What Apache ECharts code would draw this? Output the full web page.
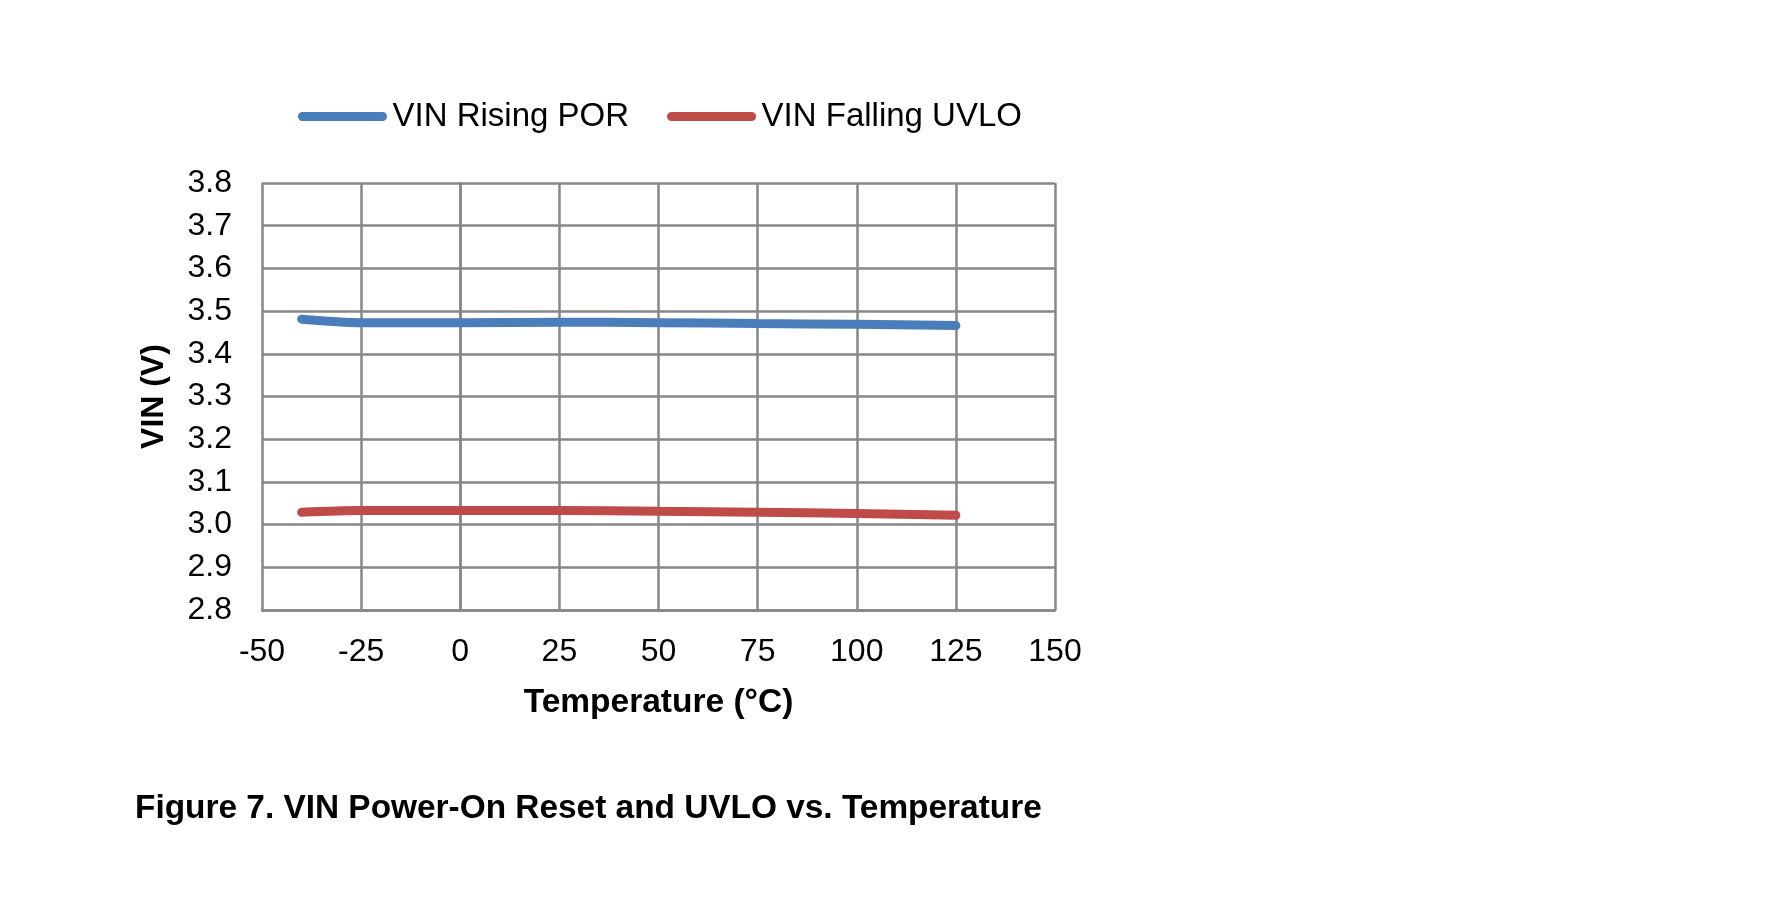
<!DOCTYPE html>
<html lang="en">
<head>
    <meta charset="UTF-8">
    <title>VIN Power-On Reset and UVLO vs. Temperature</title>
    <script src="https://cdn.jsdelivr.net/npm/echarts@6.0.0/dist/echarts.min.js"></script>
    <style>
        html, body { margin: 0; padding: 0; background: #fff; }
    </style>
</head>
<body>

    <div id="main" style="width:1771px; height:911px;"></div>

    <script>
        // temperature points (°C) and measured VIN thresholds (V)
        var temps = [-40, -25, 0, 25, 50, 75, 100, 125];
        var porRising = [3.481, 3.473, 3.473, 3.474, 3.473, 3.471, 3.469, 3.466];
        var uvloFalling = [3.029, 3.033, 3.033, 3.033, 3.031, 3.029, 3.026, 3.022];
        var seriesNames = ["VIN Rising POR", "VIN Falling UVLO"];

        var font = "'Liberation Sans', Arial, sans-serif";
        var gridColor = '#878787';

        function pairs(xs, ys) {
            return xs.map(function (x, i) { return [x, ys[i]]; });
        }

        var charts = echarts.init(document.getElementById("main"));

        var options = {
            animation: false,
            textStyle: { fontFamily: font, color: '#000' },
            title: {
                text: "Figure 7. VIN Power-On Reset and UVLO vs. Temperature",
                left: 135,
                top: 792,
                padding: 0,
                textStyle: { fontFamily: font, fontSize: 33.4, fontWeight: 'bold', color: '#000' }
            },
            legend: {
                left: 293,
                top: 95,
                itemWidth: 80,
                itemHeight: 30,
                itemGap: 38,
                itemStyle: { opacity: 0 },
                lineStyle: { width: 9, cap: 'round' },
                textStyle: { fontFamily: font, fontSize: 33, color: '#000', padding: [0, 0, 0, 5] },
                data: seriesNames
            },
            grid: { left: 262, right: 716, top: 183, bottom: 301 },
            xAxis: {
                type: 'value',
                min: -50,
                max: 150,
                interval: 25,
                name: 'Temperature (°C)',
                nameLocation: 'middle',
                nameGap: 76,
                nameTextStyle: { fontFamily: font, fontSize: 33.5, fontWeight: 'bold', color: '#000' },
                axisLine: { lineStyle: { color: gridColor, width: 2.5 } },
                axisTick: { show: false },
                axisLabel: { fontFamily: font, fontSize: 32, color: '#000', margin: 26 },
                splitLine: { show: true, lineStyle: { color: gridColor, width: 2.5 } }
            },
            yAxis: {
                type: 'value',
                min: 2.8,
                max: 3.8,
                interval: 0.1,
                name: 'VIN (V)',
                nameLocation: 'middle',
                nameGap: 92,
                nameTextStyle: { fontFamily: font, fontSize: 32, fontWeight: 'bold', color: '#000' },
                axisLine: { show: true, lineStyle: { color: gridColor, width: 2.5 } },
                axisTick: { show: false },
                axisLabel: {
                    fontFamily: font, fontSize: 32, color: '#000', margin: 30,
                    formatter: function (v) { return v.toFixed(1); }
                },
                splitLine: { show: true, lineStyle: { color: gridColor, width: 2.5 } }
            },
            series: [{
                name: seriesNames[0],
                type: 'line',
                smooth: 0.3,
                symbol: 'none',
                color: '#4a7ebb',
                lineStyle: { color: '#4a7ebb', width: 9, cap: 'round' },
                data: pairs(temps, porRising)
            }, {
                name: seriesNames[1],
                type: 'line',
                smooth: 0.3,
                symbol: 'none',
                color: '#be4b48',
                lineStyle: { color: '#be4b48', width: 9, cap: 'round' },
                data: pairs(temps, uvloFalling)
            }]
        };

        charts.setOption(options);
    </script>
</body>
</html>
